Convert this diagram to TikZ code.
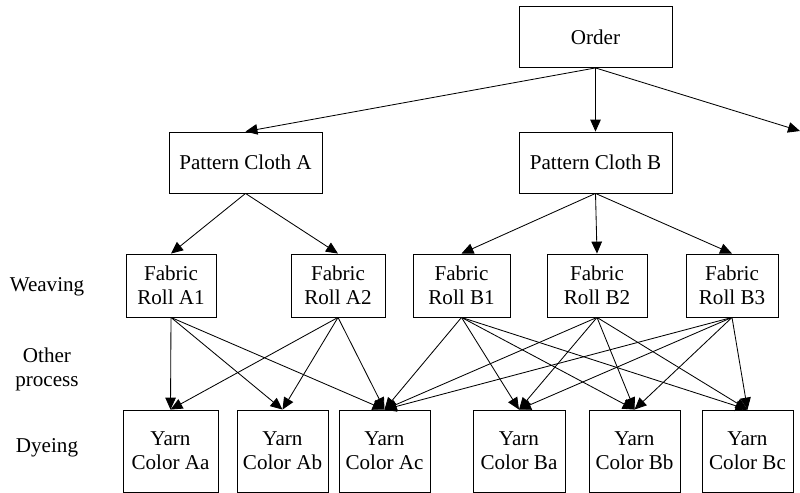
\documentclass[tikz,border=0pt]{standalone}
\usepackage{fontspec}
\setmainfont{Liberation Serif}
\newfontfamily\diagfont{Liberation Serif}
\usepackage{tikz}
\usetikzlibrary{arrows.meta,positioning}

\begin{document}
\begin{tikzpicture}[
      x=0.025cm, y=-0.025cm,
      font=\diagfont\fontsize{15}{17}\selectfont,
      >={Triangle[length=8.5pt,width=7.5pt]},
      every path/.style={line width=0.6pt},
      box/.style={draw=black, inner sep=1pt, align=center},
      top/.style={box, minimum width=3.825cm, minimum height=1.525cm},
      fabric/.style={box, minimum height=1.575cm},
      yarn/.style={box, minimum width=2.3cm, minimum height=2.05cm},
      stage/.style={align=center},
]
\useasboundingbox (0,0) rectangle (800,492);

\node[top] (order) at (595.5,37) {Order};
\node[top] (pca) at (245.5,162.5) {Pattern Cloth A};
\node[top] (pcb) at (595.5,162.5) {Pattern Cloth B};
\coordinate (pcc) at (800,131);

\node[fabric, minimum width=2.25cm] (a1) at (171,285.5) {Fabric\\Roll A1};
\node[fabric, minimum width=2.35cm] (a2) at (338,285.5) {Fabric\\Roll A2};
\node[fabric, minimum width=2.425cm] (b1) at (461.5,285.5) {Fabric\\Roll B1};
\node[fabric, minimum width=2.5cm] (b2) at (597,285.5) {Fabric\\Roll B2};
\node[fabric, minimum width=2.3cm] (b3) at (732,285.5) {Fabric\\Roll B3};

\node[yarn, minimum width=2.375cm] (aa) at (170.5,451) {Yarn\\Color Aa};
\node[yarn, minimum width=2.275cm] (ab) at (282.5,451) {Yarn\\Color Ab};
\node[yarn, minimum width=2.275cm] (ac) at (384.5,451) {Yarn\\Color Ac};
\node[yarn] (ba) at (519,451) {Yarn\\Color Ba};
\node[yarn, minimum width=2.275cm] (bb) at (634.5,451) {Yarn\\Color Bb};
\node[yarn, minimum width=2.275cm] (bc) at (747.5,451) {Yarn\\Color Bc};

\node[stage] (weaving) at (47,287) {Weaving};
\node[stage] (other) at (47,369) {Other\\process};
\node[stage] (dyeing) at (47,448) {Dyeing};

\draw[->] (order.south) -- (pca.north);
\draw[->] (order.south) -- (pcb.north);
\draw[->] (order.south) -- (pcc);

\draw[->] (pca.south) -- (a1.north);
\draw[->] (pca.south) -- (a2.north);
\foreach \f in {b1,b2,b3}
  \draw[->] (pcb.south) -- (\f.north);

\foreach \f in {a1,a2}
  \foreach \y in {aa,ab,ac}
    \draw[->] (\f.south) -- (\y.north);
\foreach \f in {b1,b2,b3}
  \foreach \y in {ac,ba,bb,bc}
    \draw[->] (\f.south) -- (\y.north);

\end{tikzpicture}
\end{document}
